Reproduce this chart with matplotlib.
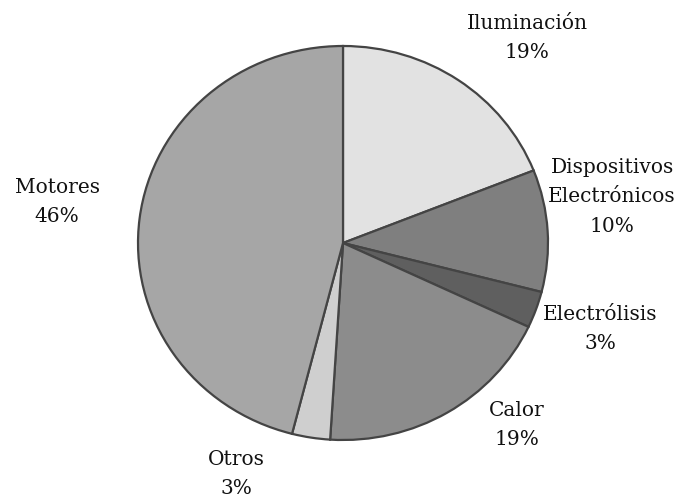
import matplotlib.pyplot as plt

# energy use shares, clockwise from the top
labels = ["Iluminación", "Dispositivos\nElectrónicos", "Electrólisis", "Calor", "Otros", "Motores"]
shares = [19, 10, 3, 19, 3, 46]
colors = ["#e2e2e2", "#7f7f7f", "#5f5f5f", "#8c8c8c", "#cfcfcf", "#a6a6a6"]

# label centres in pixel units (y measured from the top)
label_pos = [(527, 38), (612, 197), (600, 329), (517, 425), (236, 474), (57, 202)]

W, H = 678, 498
rx, ry = 205, 197          # pie is slightly squashed vertically
sy = rx / ry               # y data units per pixel

fig = plt.figure(figsize=(W / 100, H / 100), dpi=100)
ax = fig.add_axes([0, 0, 1, 1])

ax.pie(shares, colors=colors, startangle=90, counterclock=False,
       center=(343, (H - 243) * sy), radius=rx,
       wedgeprops=dict(edgecolor="#444444", linewidth=1.6))

for lab, val, (x, y) in zip(labels, shares, label_pos):
    ax.text(x, (H - y) * sy, "%s\n%d%%" % (lab, val), ha="center", va="center",
            fontsize=14.5, family="DejaVu Serif", color="#111111",
            linespacing=1.72)

ax.set_aspect("auto")
ax.set_xlim(0, W)
ax.set_ylim(0, H * sy)
ax.axis("off")

fig.savefig("out.png", dpi=100, facecolor="white")
